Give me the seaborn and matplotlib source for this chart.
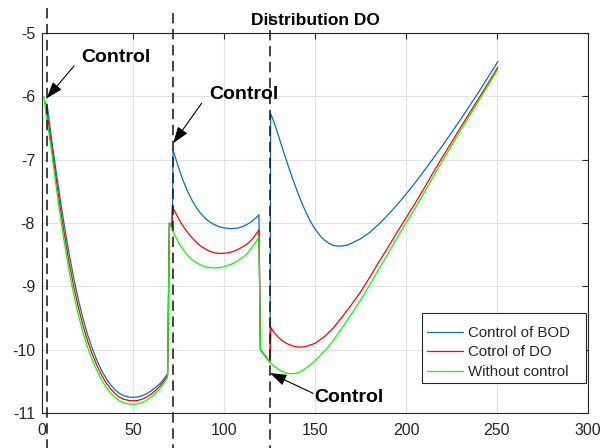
import matplotlib
matplotlib.use("Agg")
import matplotlib.pyplot as plt
from matplotlib.patches import Rectangle
import seaborn as sns

# ---------------- data ----------------
series_labels = ["Control of BOD", "Cotrol of DO", "Without control"]

bod_x = [3, 5, 7.5, 10, 12.5, 15, 17.5, 20, 22.5, 25, 27.5, 30, 32.5, 35, 37.5, 40, 42.5, 45, 47.5, 50,
         52.5, 55, 57.5, 60, 62.5, 65, 67.5, 69,
         70, 71.6, 72,
         75, 77.5, 80, 82.5, 85, 87.5, 90, 92.5, 95, 97.5, 100, 104, 107.5, 110, 112.5, 115, 117.5, 119.2,
         120, 125.3, 125.6,
         128, 130, 132.5, 135, 137.5, 140, 142.5, 145, 147.5, 150, 152.5, 155, 157.5, 160, 162.5, 165,
         167.5, 170, 175, 180, 185, 190, 195, 200, 205, 210, 220, 230, 240, 250.5]
bod_y = [-6.17, -6.62, -7.135, -7.626, -8.081, -8.50, -8.879, -9.214, -9.506, -9.758, -9.973, -10.158,
         -10.314, -10.443, -10.548, -10.63, -10.69, -10.728, -10.747, -10.752,
         -10.747, -10.728, -10.695, -10.65, -10.595, -10.53, -10.445, -10.38,
         -8.0, -8.07, -6.85,
         -7.12, -7.33, -7.5, -7.645, -7.765, -7.86, -7.935, -7.99, -8.03, -8.06, -8.078, -8.09, -8.08,
         -8.06, -8.025, -7.98, -7.92, -7.87,
         -10.0, -10.2, -6.27,
         -6.45, -6.63, -6.855, -7.075, -7.285, -7.48, -7.665, -7.83, -7.975, -8.095, -8.19, -8.265, -8.32,
         -8.352, -8.365, -8.362, -8.35, -8.32, -8.25, -8.15, -8.02, -7.875, -7.715, -7.545, -7.365,
         -7.175, -6.78, -6.365, -5.93, -5.45]

do_x = [2, 5, 7.5, 10, 12.5, 15, 17.5, 20, 22.5, 25, 27.5, 30, 32.5, 35, 37.5, 40, 42.5, 45, 47.5, 50,
        52.5, 55, 57.5, 60, 62.5, 65, 67.5, 69,
        70, 71.3, 71.6,
        72.5, 75, 77.5, 80, 82.5, 85, 87.5, 90, 92.5, 95, 97.5, 100, 102.5, 105, 107.5, 110, 112.5, 115,
        117.5, 119.2,
        120, 125.3, 125.8,
        127.5, 130, 132.5, 135, 137.5, 140, 142.5, 145, 150, 155, 160, 165, 170, 175, 180, 185, 190, 195,
        200, 205, 210, 215, 220, 230, 240, 250.5]
do_y = [-6.1, -6.72, -7.25, -7.756, -8.216, -8.64, -9.009, -9.334, -9.616, -9.858, -10.063, -10.238,
        -10.389, -10.513, -10.613, -10.69, -10.748, -10.783, -10.802, -10.807,
        -10.802, -10.783, -10.748, -10.70, -10.64, -10.57, -10.478, -10.405,
        -8.0, -8.06, -7.73,
        -7.79, -7.93, -8.05, -8.15, -8.235, -8.31, -8.37, -8.415, -8.45, -8.47, -8.48, -8.478, -8.468,
        -8.45, -8.42, -8.38, -8.335, -8.27, -8.18, -8.11,
        -10.0, -10.2, -9.65,
        -9.73, -9.81, -9.87, -9.91, -9.94, -9.955, -9.96, -9.95, -9.9, -9.8, -9.66, -9.48, -9.29, -9.09,
        -8.86, -8.62, -8.39, -8.15, -7.92, -7.69, -7.45, -7.2, -6.96, -6.49, -6.03, -5.54]

nc_x = [1, 2.5, 5, 7.5, 10, 12.5, 15, 17.5, 20, 22.5, 25, 27.5, 30, 32.5, 35, 37.5, 40, 42.5, 45, 47.5,
        50, 52.5, 55, 57.5, 60, 62.5, 65, 67.5, 69,
        70,
        72.5, 75, 77.5, 80, 82.5, 85, 87.5, 90, 92.5, 95, 97.5, 100, 105, 110, 112.5, 115, 117.5, 119.2,
        120, 125.3,
        127.5, 130, 132.5, 135, 137.5, 140, 142.5, 145, 147.5, 150, 155, 160, 165, 170, 175, 180, 185, 190,
        195, 200, 205, 210, 215, 220, 230, 240, 250.5]
nc_y = [-6.0, -6.34, -6.82, -7.365, -7.886, -8.351, -8.78, -9.139, -9.454, -9.726, -9.958, -10.153,
        -10.318, -10.464, -10.583, -10.678, -10.75, -10.805, -10.838, -10.857,
        -10.862, -10.857, -10.838, -10.80, -10.75, -10.685, -10.61, -10.51, -10.43,
        -8.0,
        -8.165, -8.305, -8.42, -8.51, -8.58, -8.63, -8.668, -8.692, -8.705, -8.708, -8.703, -8.69, -8.64,
        -8.55, -8.49, -8.4, -8.3, -8.22,
        -10.0, -10.2,
        -10.26, -10.31, -10.35, -10.375, -10.38, -10.37, -10.34, -10.29, -10.24, -10.18, -10.03, -9.86,
        -9.65, -9.44, -9.22, -8.98, -8.73, -8.49, -8.24, -8.0, -7.77, -7.52, -7.27, -7.02, -6.54, -6.07, -5.57]

x_ticks = [0, 50, 100, 150, 200, 250, 300]
y_ticks = [-11, -10, -9, -8, -7, -6, -5]

control_x = [3, 72, 125.5]
control_top = [-4.61, -4.69, -4.70]
control_text = "Control"
arrow_tips = [(2.6, -6.03), (72.1, -6.74), (125.3, -10.37)]
arrow_tails = [(17.6, -5.52), (87.7, -6.11), (149.0, -10.69)]
text_pos = [(21.4, -5.453), (91.9, -6.047), (149.5, -10.822)]

# ---------------- style ----------------
sns.set_theme(style="white")
plt.rcParams["font.family"] = ["Liberation Sans", "DejaVu Sans"]

colors = ["#0072BD", "#FF0000", "#00FF00"]
dark = "#262626"

fig = plt.figure(figsize=(6.03, 4.48), dpi=100)
fig.patch.set_facecolor("white")
ax = fig.add_axes([42 / 603, 1 - 413 / 448, 546 / 603, 380 / 448])

for xs, ys, c, lab in zip([bod_x, do_x, nc_x], [bod_y, do_y, nc_y], colors, series_labels):
    sns.lineplot(x=xs, y=ys, ax=ax, color=c, lw=0.9, sort=False, estimator=None, label=lab, zorder=3)

for cx, top in zip(control_x, control_top):
    ax.plot([cx, cx], [top, -11.8], color="#1a1a1a", lw=1.15, ls=(0, (6.5, 3.5)),
            clip_on=False, zorder=4)

for tip, tail, tp in zip(arrow_tips, arrow_tails, text_pos):
    ax.annotate("", xy=tip, xytext=tail,
                arrowprops=dict(arrowstyle="-|>,head_length=1.0,head_width=0.35",
                                mutation_scale=10, color="black", lw=0.8,
                                shrinkA=0, shrinkB=0), zorder=5)
    ax.text(tp[0], tp[1], control_text, fontsize=14, fontweight="bold",
            ha="left", va="baseline", color="black", zorder=5)

ax.set_xlim(0, 300)
ax.set_ylim(-11, -5)
ax.set_xticks(x_ticks)
ax.set_yticks(y_ticks)
ax.set_xticklabels([str(v) for v in x_ticks])
ax.set_yticklabels([str(v) for v in y_ticks])
ax.grid(True, color="#e2e2e2", lw=0.8)
ax.set_axisbelow(True)
ax.tick_params(direction="in", length=4, width=0.8, top=True, right=True,
               labelsize=11.5, colors=dark, labelcolor=dark)
ax.tick_params(axis="x", pad=7.5)
ax.tick_params(axis="y", pad=5)
for s in ax.spines.values():
    s.set_color(dark)
    s.set_linewidth(0.8)
ax.set_xlabel("")
ax.set_ylabel("")
ax.set_title("Distribution DO", fontsize=12.5, fontweight="bold", color="black", pad=6)

# legend box (MATLAB-like, wider right padding)
box_x0, box_x1 = (421.7 - 42) / 546, (586 - 42) / 546
box_y0, box_y1 = (413 - 383.3) / 380, (413 - 313) / 380
ax.add_patch(Rectangle((box_x0, box_y0), box_x1 - box_x0, box_y1 - box_y0, transform=ax.transAxes,
                       facecolor="white", edgecolor=dark, lw=0.8, zorder=6, clip_on=False))
leg = ax.legend(loc="upper left", bbox_to_anchor=((426.7 - 42) / 546, (413 - 326.0) / 380),
                borderaxespad=0, borderpad=0, fontsize=10.8, frameon=False,
                handlelength=2.4, handletextpad=0.33, labelspacing=0.36)
leg.set_zorder(7)
for t in leg.get_texts():
    t.set_color(dark)

fig.savefig("out.png", dpi=100, facecolor="white")
